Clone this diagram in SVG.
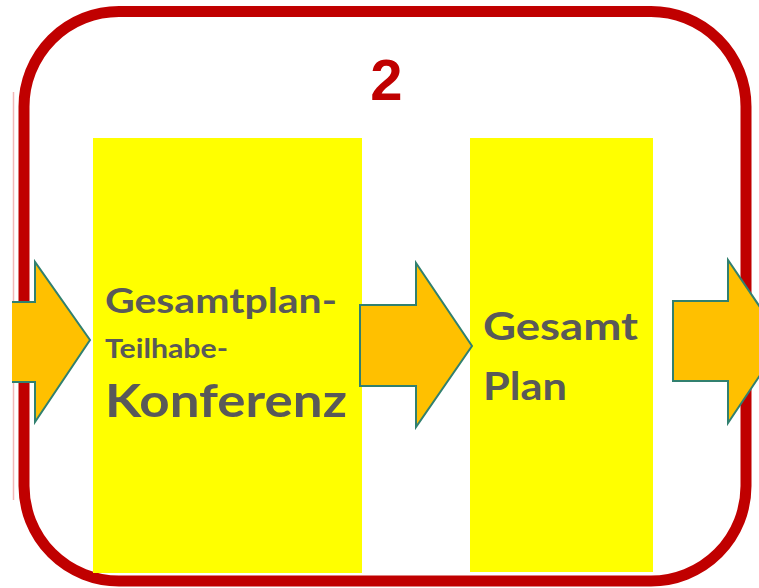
<svg xmlns="http://www.w3.org/2000/svg" width="759" height="588" viewBox="0 0 759 588">
<style>
.box{fill:#FFFF00}
.arrow{fill:#FFC000;stroke:#31806F;stroke-width:2;stroke-linejoin:miter}
.lbl{font-family:Lato,"Open Sans","Liberation Sans",sans-serif;font-weight:bold;fill:#595959}
</style>
<rect width="759" height="588" fill="#ffffff"/>
<line x1="13.5" y1="92" x2="13.5" y2="500" stroke="#f2b8b8" stroke-width="1.5"/>
<g id="frame">
<rect x="24" y="11.5" width="722" height="569.5" rx="95" ry="95" fill="none" stroke="#C00000" stroke-width="11"/>
<text x="386.5" y="100" text-anchor="middle" font-family="'Liberation Sans',Arial,sans-serif" font-weight="bold" font-size="58" fill="#C00000">2</text>
</g>
<g id="konferenz">
<rect class="box" x="93" y="138" width="269" height="435"/>
<text class="lbl" x="105" y="313" font-size="35" textLength="232" lengthAdjust="spacingAndGlyphs">Gesamtplan-</text>
<text class="lbl" x="105" y="358" font-size="26" textLength="123" lengthAdjust="spacingAndGlyphs">Teilhabe-</text>
<text class="lbl" x="105" y="417" font-size="45" textLength="242" lengthAdjust="spacingAndGlyphs">Konferenz</text>
</g>
<g id="gesamtplan">
<rect class="box" x="470" y="138" width="183" height="434"/>
<text class="lbl" x="483" y="340" font-size="39" textLength="155" lengthAdjust="spacingAndGlyphs">Gesamt</text>
<text class="lbl" x="483" y="400" font-size="39" textLength="84" lengthAdjust="spacingAndGlyphs">Plan</text>
</g>
<g id="connectors">
<polygon points="12,302 35,302 35,262 90,340 35,422 35,382 12,382" fill="#FFC000"/>
<polyline class="arrow" fill="none" points="12,302 35,302 35,262 90,340 35,422 35,382 12,382" style="fill:none"/>
<polygon class="arrow" points="360,305 416,305 416,263 472,346 416,427 416,386 360,386"/>
<polygon class="arrow" points="673,301 728,301 728,260 783,341 728,423 728,381 673,381"/>
</g>
</svg>
